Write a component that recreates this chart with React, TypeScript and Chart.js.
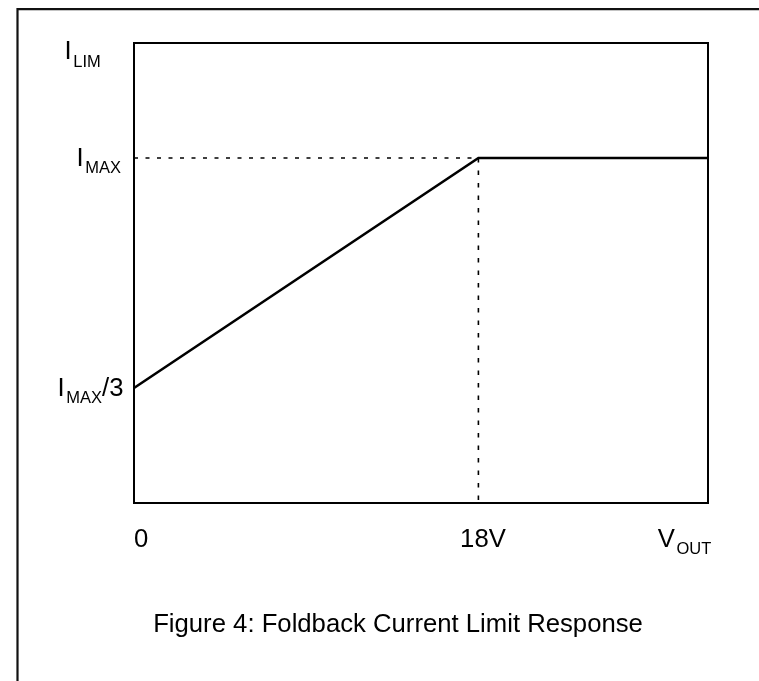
import React, { useEffect, useRef } from "react";
import { Chart, registerables } from "chart.js";

Chart.register(...registerables);

// ---- data ----
const vOut = [0, 18, 30];
const iLim = [1, 3, 3];
const kneeV = 18;
const kneeI = 3;

const xTickValues = [0, 18, 30];
const xTickMain = ["0", "18V", "V"];
const xTickSub = ["", "", "OUT"];

const yTickValues = [4, 3, 1];
const yTickMain = ["I", "I", "I"];
const yTickSub = ["LIM", "MAX", "MAX"];
const yTickSuffix = ["", "", "/3"];

const caption = "Figure 4: Foldback Current Limit Response";

// ---- styles / layout ----
const W = 759;
const H = 681;
const FONT = '"Liberation Sans", Arial, Helvetica, sans-serif';
const MAIN_PX = 25.7;
const SUB_PX = 16.5;
const SUB_DROP = 7.3;
// offsets of each tick label relative to its tick [dx, dyBaseline]
const xTickOffsets = [
  [0, 44],
  [-18.3, 44],
  [-50.2, 44],
];
const yTickOffsets = [
  [-69.4, 16.3],
  [-57.4, 7.7],
  [-76.4, 8],
];

const framePlugin = {
  id: "figureDecor",
  beforeDatasetsDraw(chart: any) {
    const { ctx, chartArea } = chart;
    ctx.save();
    // outer figure frame
    ctx.strokeStyle = "#111";
    ctx.lineWidth = 2.2;
    ctx.beginPath();
    ctx.moveTo(17.5, H + 5);
    ctx.lineTo(17.5, 9.2);
    ctx.lineTo(W + 5, 9.2);
    ctx.stroke();
    // plot frame
    ctx.strokeStyle = "#000";
    ctx.lineWidth = 2;
    ctx.strokeRect(
      chartArea.left,
      chartArea.top,
      chartArea.right - chartArea.left,
      chartArea.bottom - chartArea.top
    );
    ctx.restore();
  },
  afterDraw(chart: any) {
    const { ctx, chartArea, scales } = chart;
    const xs = scales.x;
    const ys = scales.y;
    ctx.save();
    ctx.fillStyle = "#000";
    ctx.textBaseline = "alphabetic";
    ctx.textAlign = "left";

    const drawLabel = (x: number, base: number, main: string, sub: string, suffix: string) => {
      ctx.font = `${MAIN_PX}px ${FONT}`;
      ctx.fillText(main, x, base);
      let cx = x + ctx.measureText(main).width;
      if (sub) {
        ctx.font = `${SUB_PX}px ${FONT}`;
        ctx.fillText(sub, cx + 1.5, base + SUB_DROP);
        cx += 1.5 + ctx.measureText(sub).width;
      }
      if (suffix) {
        ctx.font = `${MAIN_PX}px ${FONT}`;
        ctx.fillText(suffix, cx, base);
      }
    };

    xTickValues.forEach((v, i) => {
      const px = xs.getPixelForValue(v);
      drawLabel(px + xTickOffsets[i][0], chartArea.bottom + xTickOffsets[i][1], xTickMain[i], xTickSub[i], "");
    });
    yTickValues.forEach((v, i) => {
      const py = ys.getPixelForValue(v);
      drawLabel(chartArea.left + yTickOffsets[i][0], py + yTickOffsets[i][1], yTickMain[i], yTickSub[i], yTickSuffix[i]);
    });

    ctx.font = `${MAIN_PX}px ${FONT}`;
    ctx.textAlign = "center";
    ctx.fillText(caption, 398, 631.5);
    ctx.restore();
  },
};

export default function App() {
  const ref = useRef<HTMLCanvasElement | null>(null);

  useEffect(() => {
    if (!ref.current) return;
    const mainData = vOut.map((v, i) => ({ x: v, y: iLim[i] }));
    const hDash = [
      { x: 0, y: kneeI },
      { x: kneeV, y: kneeI },
    ];
    const vDash = [
      { x: kneeV, y: kneeI },
      { x: kneeV, y: 0 },
    ];
    const chart = new Chart(ref.current, {
      type: "line",
      data: {
        datasets: [
          {
            data: hDash,
            borderColor: "#000",
            borderWidth: 1.6,
            borderDash: [4, 7.5],
            pointRadius: 0,
            fill: false,
            clip: false,
          },
          {
            data: vDash,
            borderColor: "#000",
            borderWidth: 1.6,
            borderDash: [4.5, 8],
            pointRadius: 0,
            fill: false,
            clip: false,
          },
          {
            data: mainData,
            borderColor: "#000",
            borderWidth: 2.6,
            pointRadius: 0,
            tension: 0,
            fill: false,
            clip: false,
          },
        ],
      } as any,
      options: {
        responsive: false,
        animation: false,
        events: [],
        layout: { padding: { left: 134, top: 43, right: W - 708, bottom: H - 503 } },
        plugins: {
          legend: { display: false },
          tooltip: { enabled: false },
          title: { display: false },
        },
        scales: {
          x: { type: "linear", min: 0, max: 30, display: false },
          y: { type: "linear", min: 0, max: 4, display: false },
        },
      },
      plugins: [framePlugin],
    });
    return () => chart.destroy();
  }, []);

  return (
    <div style={{ width: W, height: H, background: "#fff" }}>
      <style>{`body{margin:0;background:#fff;}`}</style>
      <canvas ref={ref} width={W} height={H} style={{ display: "block", width: W, height: H }} />
    </div>
  );
}
